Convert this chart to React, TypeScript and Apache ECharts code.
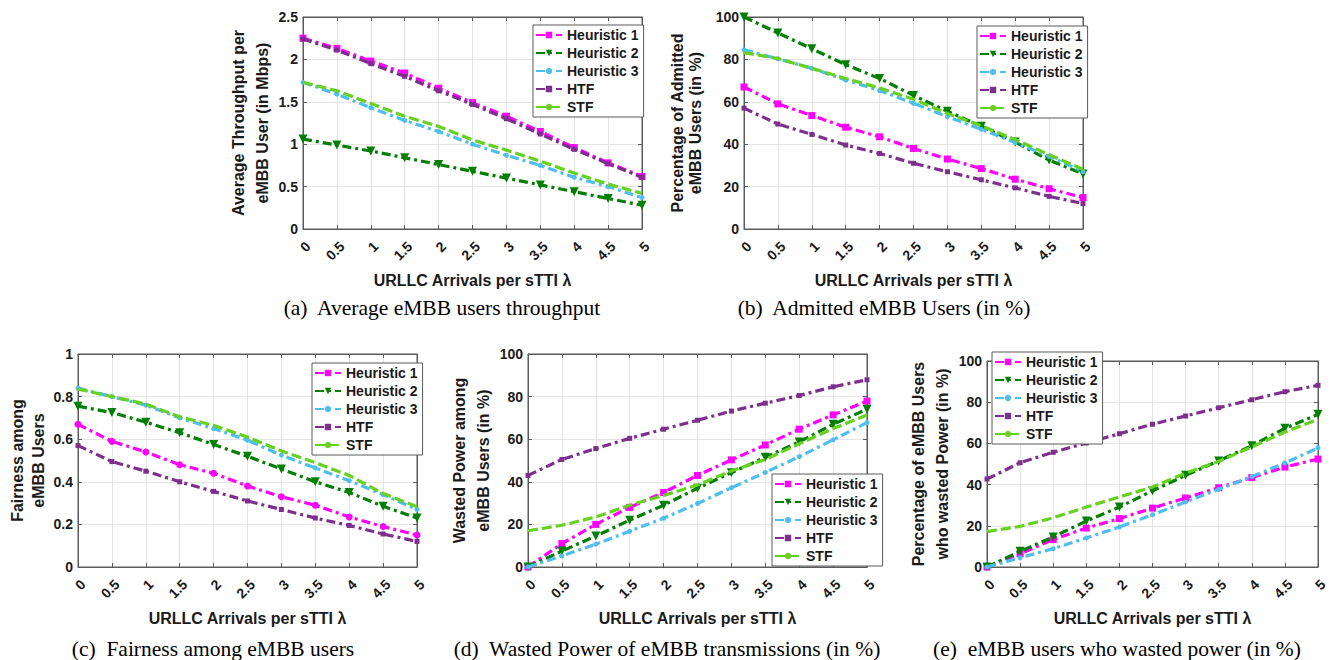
import React, { useEffect, useRef } from "react";
import * as echarts from "echarts";

const X = [0, 0.5, 1, 1.5, 2, 2.5, 3, 3.5, 4, 4.5, 5];
const NAMES = ["Heuristic 1", "Heuristic 2", "Heuristic 3", "HTF", "STF"];

// (a) Average throughput per eMBB user (Mbps)
const a_h1 = [2.25, 2.13, 1.98, 1.84, 1.66, 1.49, 1.33, 1.15, 0.96, 0.78, 0.62];
const a_h2 = [1.06, 0.99, 0.92, 0.84, 0.76, 0.68, 0.6, 0.52, 0.44, 0.36, 0.28];
const a_h3 = [1.73, 1.59, 1.43, 1.28, 1.15, 1.0, 0.87, 0.75, 0.61, 0.5, 0.37];
const a_htf = [2.24, 2.11, 1.95, 1.8, 1.63, 1.47, 1.3, 1.12, 0.94, 0.77, 0.61];
const a_stf = [1.73, 1.63, 1.48, 1.33, 1.21, 1.05, 0.93, 0.8, 0.66, 0.53, 0.42];

// (b) Admitted eMBB users (%)
const b_h1 = [67, 59, 53.5, 48, 43.5, 38, 33, 28.5, 23.5, 19, 14.8];
const b_h2 = [100, 92.5, 85, 77.5, 71, 63, 55.5, 48.5, 41, 32.5, 26];
const b_h3 = [84.5, 80.3, 75.8, 70.3, 65.3, 59.3, 53, 47, 40.8, 34.3, 27];
const b_htf = [57, 49.5, 44.6, 39.6, 35.6, 31, 27, 23.2, 19.4, 15.4, 12];
const b_stf = [83.2, 80.4, 75.8, 71, 66.5, 61.2, 54.5, 48.7, 42.2, 35, 28.2];

// (c) Fairness among eMBB users
const c_h1 = [0.67, 0.59, 0.54, 0.48, 0.44, 0.38, 0.33, 0.29, 0.235, 0.19, 0.15];
const c_h2 = [0.755, 0.725, 0.68, 0.63, 0.575, 0.52, 0.46, 0.4, 0.35, 0.285, 0.23];
const c_h3 = [0.84, 0.8, 0.76, 0.7, 0.65, 0.595, 0.525, 0.465, 0.405, 0.34, 0.27];
const c_htf = [0.57, 0.495, 0.45, 0.4, 0.355, 0.31, 0.27, 0.23, 0.195, 0.155, 0.12];
const c_stf = [0.835, 0.8, 0.765, 0.705, 0.665, 0.61, 0.545, 0.49, 0.43, 0.345, 0.283];

// (d) Wasted power (%)
const d_h1 = [0, 11, 20, 28, 35, 43, 50.3, 57.3, 64.7, 71.4, 77.9];
const d_h2 = [0, 7.5, 14.5, 22, 29, 37, 44.3, 51.5, 58.7, 67, 74.1];
const d_h3 = [0, 5.2, 10.7, 16.8, 22.9, 29.8, 37.2, 44.4, 51.8, 59.7, 67.8];
const d_htf = [43, 50.5, 55.6, 60.4, 64.7, 68.9, 73.2, 76.9, 80.5, 84.6, 87.9];
const d_stf = [17, 19.6, 23.5, 29, 33.6, 38.5, 45.1, 50.5, 57.8, 65, 71.4];

// (e) eMBB users who wasted power (%)
const e_h1 = [0, 6.5, 13.3, 18.9, 23.5, 28.6, 33.5, 38.5, 43.4, 48.5, 52.4];
const e_h2 = [0, 7.6, 14.6, 22.3, 29.1, 37, 44.5, 51.5, 58.9, 67.3, 74.1];
const e_h3 = [0, 4.5, 8.9, 14.1, 19.4, 25.4, 31.6, 37.7, 43.9, 50.5, 57.8];
const e_htf = [42.7, 50.6, 55.7, 60.2, 64.7, 69.3, 73.3, 77.3, 81.2, 85.1, 88.2];
const e_stf = [17.2, 19.7, 23.9, 29.1, 34, 38.8, 45.6, 51.3, 58.3, 65.5, 71.7];

const X_TITLE = "URLLC Arrivals per sTTI λ";

const PANELS = [
  {
    grid: { left: 303, top: 17, width: 339, height: 212 },
    yMax: 2.5, yInt: 0.5,
    yName: "Average Throughput per\neMBB User (in Mbps)", nameGap: 26, nameLH: 24,
    data: [a_h1, a_h2, a_h3, a_htf, a_stf],
    legend: { left: 533, top: 25 },
    caption: "(a)  Average eMBB users throughput", capX: 442, capY: 308,
    h1Symbol: "rect",
  },
  {
    grid: { left: 744, top: 17, width: 339, height: 212 },
    yMax: 100, yInt: 20,
    yName: "Percentage of Admitted\neMBB Users (in %)", nameGap: 40, nameLH: 18,
    data: [b_h1, b_h2, b_h3, b_htf, b_stf],
    legend: { left: 977, top: 26 },
    caption: "(b)  Admitted eMBB Users (in %)", capX: 884, capY: 308,
    h1Symbol: "rect",
  },
  {
    grid: { left: 78, top: 354, width: 339, height: 213 },
    yMax: 1, yInt: 0.2,
    yName: "Fairness among\neMBB Users", nameGap: 29.5, nameLH: 21,
    data: [c_h1, c_h2, c_h3, c_htf, c_stf],
    legend: { left: 312, top: 363 },
    caption: "(c)  Fairness among eMBB users", capX: 213, capY: 649,
    h1Symbol: "circle",
  },
  {
    grid: { left: 528, top: 354, width: 339, height: 213 },
    yMax: 100, yInt: 20,
    yName: "Wasted Power among\neMBB Users (in %)", nameGap: 29, nameLH: 24,
    data: [d_h1, d_h2, d_h3, d_htf, d_stf],
    legend: { left: 772, top: 474 },
    caption: "(d)  Wasted Power of eMBB transmissions (in %)", capX: 667, capY: 649,
    h1Symbol: "rect",
  },
  {
    grid: { left: 987, top: 361, width: 331, height: 206 },
    yMax: 100, yInt: 20,
    yName: "Percentage of eMBB Users\nwho wasted Power (in %)", nameGap: 33, nameLH: 24,
    data: [e_h1, e_h2, e_h3, e_htf, e_stf],
    legend: { left: 992, top: 352 },
    caption: "(e)  eMBB users who wasted power (in %)", capX: 1117, capY: 649,
    h1Symbol: "rect",
  },
];

const COLORS = ["#ff00ff", "#007f00", "#4dbeee", "#7e2f8e", "#66d11e"];
const DASHDOT = [9, 4, 3, 4];
const DASHED = [10, 4];
const SANS = "'Liberation Sans', Arial, Helvetica, sans-serif";
const AXIS_COLOR = "#5a5a5a";
const TEXT_COLOR = "#1a1a1a";

export default function App() {
  const ref = useRef<HTMLDivElement>(null);

  useEffect(() => {
    if (!ref.current) return;
    const chart = echarts.init(ref.current, undefined, { renderer: "svg" });

    const grids: any[] = [];
    const xAxes: any[] = [];
    const yAxes: any[] = [];
    const series: any[] = [];
    const legends: any[] = [];
    const graphics: any[] = [];

    PANELS.forEach((p, i) => {
      grids.push({
        ...p.grid,
        show: true,
        borderColor: AXIS_COLOR,
        borderWidth: 1,
        backgroundColor: "#ffffff",
        containLabel: false,
      });
      xAxes.push({
        type: "value",
        gridIndex: i,
        min: 0,
        max: 5,
        interval: 0.5,
        position: "bottom",
        name: X_TITLE,
        nameLocation: "middle",
        nameGap: 43,
        nameTextStyle: { fontFamily: SANS, fontWeight: "bold", fontSize: 16, color: TEXT_COLOR },
        axisLine: { show: true, onZero: false, lineStyle: { color: AXIS_COLOR, width: 1 } },
        axisTick: { show: true, inside: true, length: 4, lineStyle: { color: AXIS_COLOR } },
        axisLabel: {
          show: true,
          rotate: 45,
          align: "right",
          verticalAlign: "top",
          margin: 10,
          fontFamily: SANS,
          fontWeight: "bold",
          fontSize: 14,
          color: TEXT_COLOR,
          hideOverlap: false,
        },
        splitLine: { show: true, lineStyle: { color: "#e4e4e4", width: 1 } },
      });
      xAxes.push({
        type: "value",
        gridIndex: i,
        min: 0,
        max: 5,
        interval: 0.5,
        position: "top",
        axisLine: { show: true, onZero: false, lineStyle: { color: AXIS_COLOR, width: 1 } },
        axisTick: { show: true, inside: true, length: 4, lineStyle: { color: AXIS_COLOR } },
        axisLabel: { show: false },
        splitLine: { show: false },
      });
      yAxes.push({
        type: "value",
        gridIndex: i,
        min: 0,
        max: p.yMax,
        interval: p.yInt,
        position: "left",
        name: p.yName,
        nameLocation: "middle",
        nameRotate: 90,
        nameGap: p.nameGap,
        nameTextStyle: {
          fontFamily: SANS,
          fontWeight: "bold",
          fontSize: 16,
          lineHeight: p.nameLH,
          color: TEXT_COLOR,
        },
        axisLine: { show: true, onZero: false, lineStyle: { color: AXIS_COLOR, width: 1 } },
        axisTick: { show: true, inside: true, length: 4, lineStyle: { color: AXIS_COLOR } },
        axisLabel: {
          show: true,
          margin: 5,
          fontFamily: SANS,
          fontWeight: "bold",
          fontSize: 14,
          color: TEXT_COLOR,
        },
        splitLine: { show: true, lineStyle: { color: "#e4e4e4", width: 1 } },
      });
      yAxes.push({
        type: "value",
        gridIndex: i,
        min: 0,
        max: p.yMax,
        interval: p.yInt,
        position: "right",
        axisLine: { show: true, onZero: false, lineStyle: { color: AXIS_COLOR, width: 1 } },
        axisTick: { show: true, inside: true, length: 4, lineStyle: { color: AXIS_COLOR } },
        axisLabel: { show: false },
        splitLine: { show: false },
      });

      const symbols = [p.h1Symbol, "triangle", "circle", "rect", "none"];
      const sizes = [7, 9, 5, 5, 0];
      const rotates = [0, 180, 0, 0, 0];
      NAMES.forEach((name, k) => {
        series.push({
          type: "line",
          name,
          xAxisIndex: 2 * i,
          yAxisIndex: 2 * i,
          data: X.map((x, j) => [x, p.data[k][j]]),
          symbol: symbols[k],
          symbolSize: sizes[k],
          symbolRotate: rotates[k],
          showSymbol: symbols[k] !== "none",
          color: COLORS[k],
          itemStyle: { color: COLORS[k] },
          lineStyle: {
            color: COLORS[k],
            width: 3.2,
            type: k === 4 ? DASHED : DASHDOT,
          },
          z: 2 + k * 0.01,
          silent: true,
        });
      });

      legends.push({
        show: true,
        left: p.legend.left,
        top: p.legend.top,
        orient: "vertical",
        data: NAMES,
        selectedMode: false,
        backgroundColor: "#ffffff",
        borderColor: "#5a5a5a",
        borderWidth: 1,
        borderRadius: 0,
        padding: [3, 5, 3, 2],
        itemGap: 4,
        itemWidth: 26,
        itemHeight: 8,
        textStyle: {
          fontFamily: SANS,
          fontWeight: "bold",
          fontSize: 14,
          lineHeight: 13,
          color: TEXT_COLOR,
        },
      });

      graphics.push({
        type: "text",
        x: p.capX,
        y: p.capY,
        style: {
          text: p.caption,
          fontFamily: "'Liberation Serif', 'Times New Roman', serif",
          fontSize: 21.5,
          fill: "#000000",
          textAlign: "center",
          textVerticalAlign: "middle",
        },
      });
    });

    chart.setOption({
      animation: false,
      backgroundColor: "#ffffff",
      grid: grids,
      xAxis: xAxes,
      yAxis: yAxes,
      series,
      legend: legends,
      graphic: graphics,
    });

    return () => chart.dispose();
  }, []);

  return (
    <div
      ref={ref}
      style={{ position: "absolute", left: 0, top: 0, width: 1335, height: 660 }}
    />
  );
}
